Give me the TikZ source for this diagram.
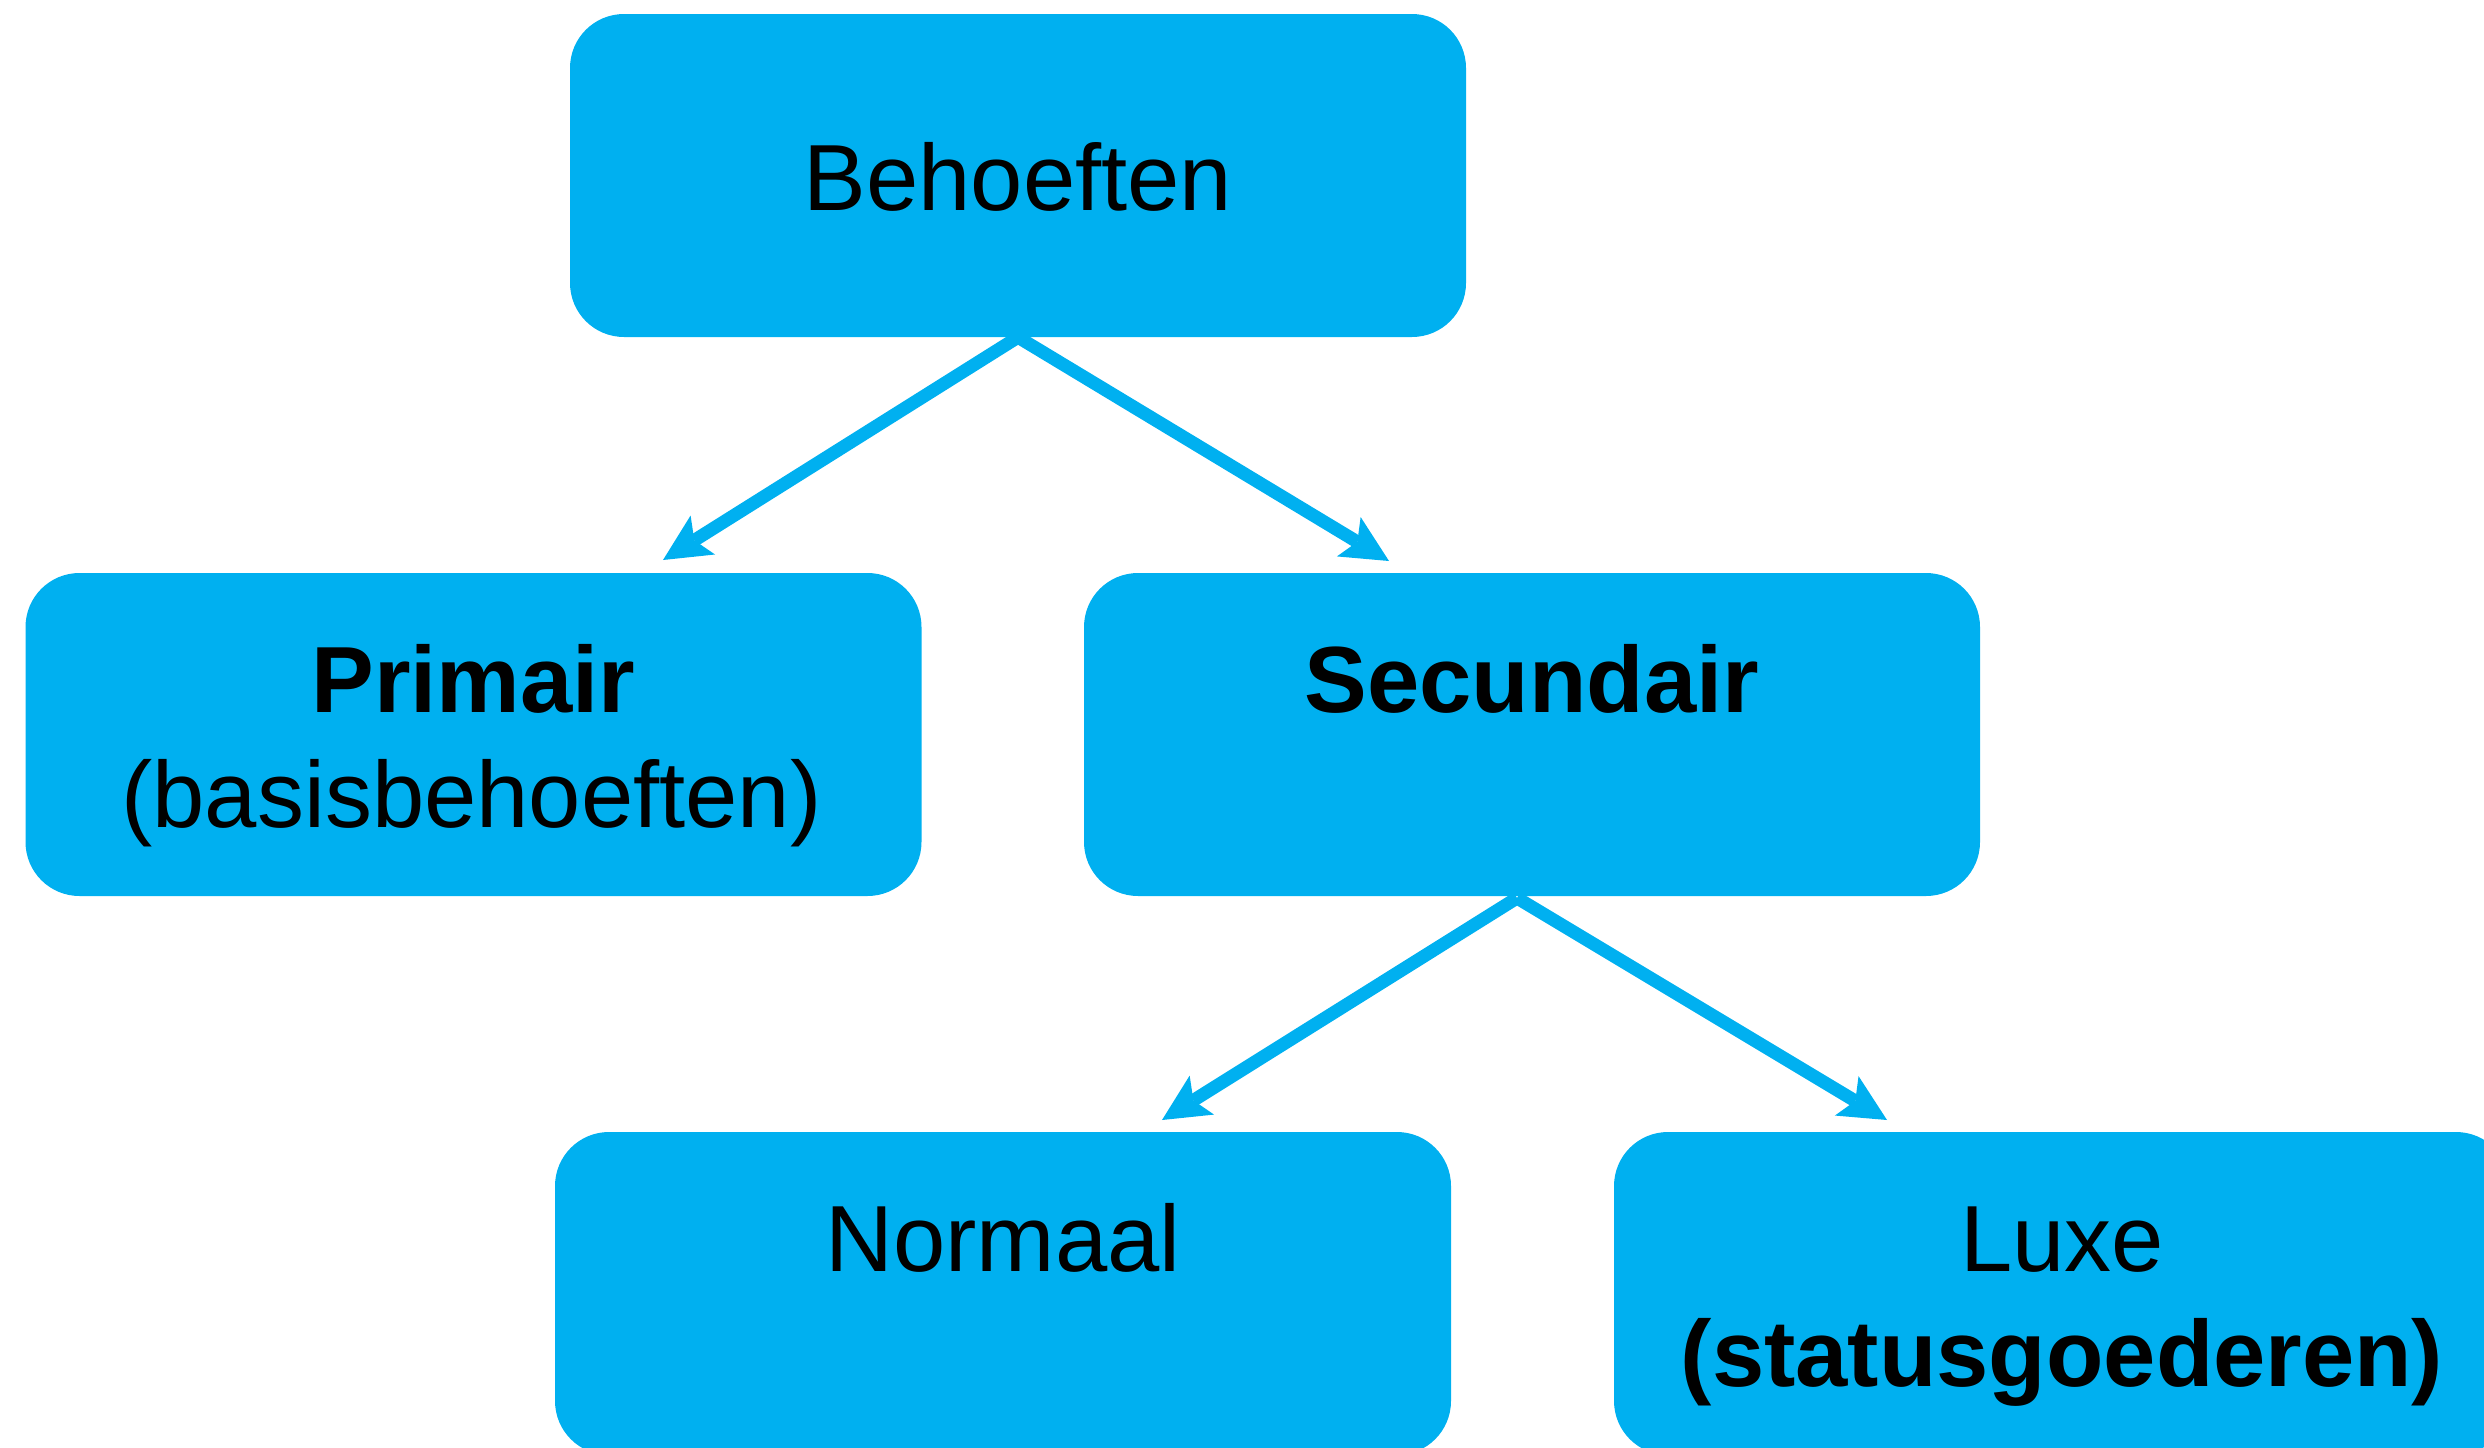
\documentclass[tikz,border=0pt]{standalone}
\usepackage{fontspec}
\setmainfont{Liberation Sans}
\usetikzlibrary{arrows.meta,calc}
\definecolor{boxblue}{HTML}{00B0F0}
\tikzset{
  box/.style={rectangle, rounded corners=54pt, fill=boxblue, draw=none,
    minimum width=896pt, minimum height=323pt, inner sep=0pt},
  lbl/.style={anchor=base, inner sep=0pt, text=black,
    font=\fontsize{94}{113}\selectfont},
  conn/.style={draw=boxblue, line width=13pt,
    -{Stealth[length=47pt, width=46pt, inset=10pt, line width=0pt]}}
}
\begin{document}
\begin{tikzpicture}[x=1pt, y=-1pt]
\path[use as bounding box, clip] (0,0) rectangle (2484,1448);
% boxes
\node[box] (beh) at (1018,175.5) {};
\node[box] (prim) at (473.5,734.5) {};
\node[box] (sec) at (1532,734.5) {};
\node[box] (norm) at (1003,1293.5) {};
\node[box] (lux) at (2062,1293.5) {};
% texts
\node[lbl] (tbeh) at ($(beh.north)+(0,197)$) {Behoeften};
\node[lbl, font=\fontsize{94}{113}\selectfont\bfseries] (tprim1) at ($(prim.north)+(0,140)$) {Primair};
\node[lbl] (tprim2) at ($(prim.north)+(-2,255)$) {(basisbehoeften)};
\node[lbl, font=\fontsize{94}{113}\selectfont\bfseries] (tsec) at ($(sec.north)+(0,140)$) {Secundair};
\node[lbl] (tnorm) at ($(norm.north)+(0,140)$) {Normaal};
\node[lbl] (tlux1) at ($(lux.north)+(0,140)$) {Luxe};
\node[lbl, font=\fontsize{94}{113}\selectfont\bfseries] (tlux2) at ($(lux.north)+(0,255)$) {(statusgoederen)};
% connector ends
\coordinate (s2) at (1517,898);
\coordinate (t1) at (663,560);
\coordinate (t2) at (1389,561);
\coordinate (t3) at (1162,1120);
\coordinate (t4) at (1887,1120);
% connectors
\draw[conn] (beh.south) -- (t1);
\draw[conn] (beh.south) -- (t2);
\draw[conn] (s2) -- (t3);
\draw[conn] (s2) -- (t4);
\end{tikzpicture}
\end{document}
